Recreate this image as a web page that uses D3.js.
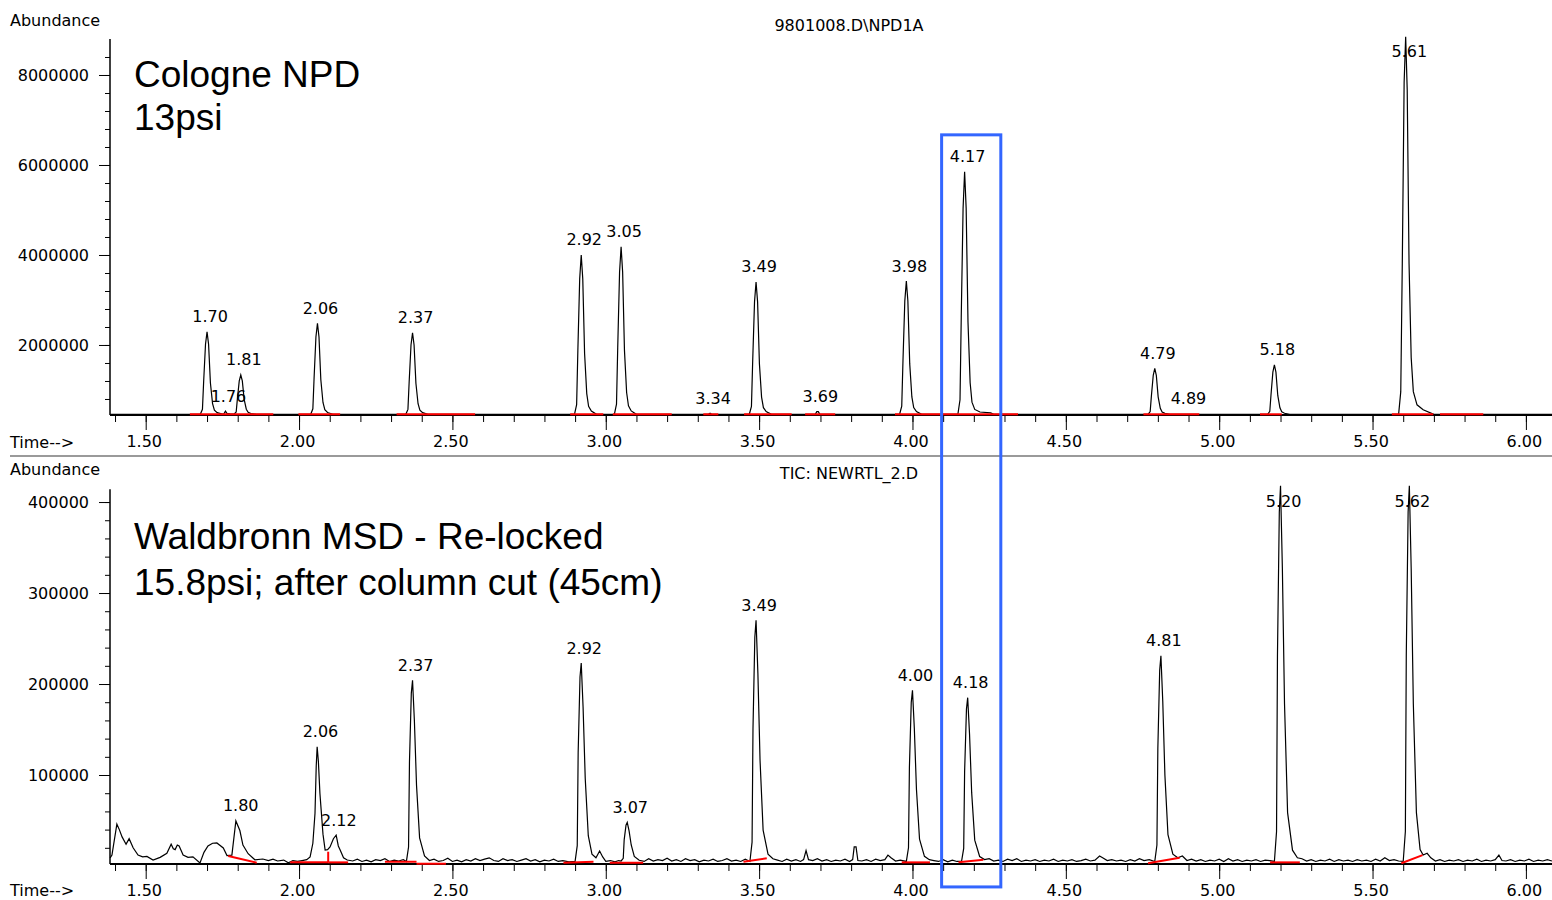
<!DOCTYPE html>
<html>
<head>
<script src="https://cdnjs.cloudflare.com/ajax/libs/d3/7.8.5/d3.min.js"></script>
<style>
  body { margin: 0; background: #fff; }
  .small { font-family: "DejaVu Sans", sans-serif; font-size: 16px; fill: #000; }
  .big { font-family: "Liberation Sans", Arial, sans-serif; font-size: 37px; fill: #000; }
  .trace { fill: none; stroke: #000; stroke-width: 1.2; stroke-linejoin: miter; }
  .intbase { stroke: #ff0000; stroke-width: 2; }
</style>
</head>
<body>
<div id="chart"></div>
<script>
// time axis (minutes)
const timeMajor = [1.5, 2.0, 2.5, 3.0, 3.5, 4.0, 4.5, 5.0, 5.5, 6.0];
const timeMinor = d3.range(14, 61).map(d => d / 10);

// ---- top: Cologne NPD ----
const npdMajor = [2000000, 4000000, 6000000, 8000000];
const npdMinor = d3.range(2, 23).map(d => d * 400000);
const npdTrace = [
  [1.384,460000],
  [1.678,460000],[1.685,570000],[1.689,1192000],[1.695,2016000],[1.700,2290000],[1.705,2016000],[1.711,1155000],[1.718,698000],[1.724,552000],[1.733,497000],[1.750,462000],
  [1.755,470000],[1.760,530000],[1.765,480000],[1.775,468000],
  [1.788,462000],[1.795,512000],[1.799,809000],[1.805,1202000],[1.810,1333000],[1.815,1202000],[1.821,792000],[1.828,573000],[1.834,504000],[1.843,477000],[1.860,460000],
  [2.038,460000],[2.045,581000],[2.049,1268000],[2.055,2177000],[2.060,2480000],[2.065,2177000],[2.071,1228000],[2.078,723000],[2.084,561000],[2.093,500000],[2.110,460000],
  [2.348,460000],[2.355,569000],[2.359,1184000],[2.365,1999000],[2.370,2270000],[2.375,1999000],[2.381,1148000],[2.388,695000],[2.394,551000],[2.403,496000],[2.420,460000],
  [2.898,460000],[2.905,672000],[2.909,1876000],[2.915,3469000],[2.920,4000000],[2.925,3469000],[2.931,1805000],[2.938,920000],[2.944,637000],[2.953,531000],[2.970,460000],
  [3.028,460000],[3.035,683000],[3.039,1948000],[3.045,3622000],[3.050,4180000],[3.055,3622000],[3.061,1874000],[3.068,944000],[3.074,646000],[3.083,534000],[3.100,460000],
  [3.335,460000],[3.340,485000],[3.345,460000],
  [3.468,460000],[3.475,636000],[3.479,1636000],[3.485,2959000],[3.490,3400000],[3.495,2959000],[3.501,1577000],[3.508,842000],[3.514,607000],[3.523,519000],[3.540,460000],
  [3.683,460000],[3.688,520000],[3.693,520000],[3.698,460000],
  [3.958,460000],[3.965,638000],[3.969,1644000],[3.975,2976000],[3.980,3420000],[3.985,2976000],[3.991,1585000],[3.998,845000],[4.004,608000],[4.013,519000],[4.030,460000],
  [4.148,460000],[4.155,783000],[4.159,2616000],[4.165,5042000],[4.170,5850000],[4.175,5042000],[4.181,2508000],[4.188,1161000],[4.194,730000],[4.203,568000],[4.220,510000],[4.255,490000],[4.265,460000],
  [4.768,460000],[4.775,521000],[4.779,868000],[4.785,1327000],[4.790,1480000],[4.795,1327000],[4.801,848000],[4.808,593000],[4.814,511000],[4.823,480000],[4.840,460000],
  [5.158,460000],[5.165,526000],[5.169,900000],[5.175,1395000],[5.180,1560000],[5.185,1395000],[5.191,878000],[5.198,603000],[5.204,515000],[5.213,482000],[5.230,460000],
  [5.585,460000],[5.592,963000],[5.597,3816000],[5.603,7843000],[5.608,8850000],[5.613,7675000],[5.619,3816000],[5.626,1719000],[5.633,963000],[5.645,670000],[5.665,561000],[5.700,460000],
  [6.085,460000]
];
// integration baselines [t1, v1, t2, v2]
const npdBaselines = [
  [1.644,460000,1.916,460000],[1.998,460000,2.134,460000],[2.318,460000,2.574,460000],
  [2.884,460000,2.992,460000],[3.023,460000,3.215,460000],[3.318,460000,3.367,460000],
  [3.451,460000,3.606,460000],[3.650,460000,3.748,460000],[3.943,460000,4.095,460000],
  [4.095,460000,4.344,460000],[4.753,460000,4.807,460000],[4.807,460000,4.935,460000],
  [5.133,460000,5.204,460000],[5.563,460000,5.698,460000],[5.720,460000,5.861,460000]
];
const npdPeakRT  = [1.70, 1.76, 1.81, 2.06, 2.37, 2.92, 3.05, 3.34, 3.49, 3.69, 3.98, 4.17, 4.79, 4.89, 5.18, 5.61];
const npdPeakTop = [2290000, 530000, 1333000, 2480000, 2270000, 4000000, 4180000, 480000, 3400000, 520000, 3420000, 5850000, 1480000, 480000, 1560000, 8850000];

// ---- bottom: Waldbronn MSD ----
const msdMajor = [100000, 200000, 300000, 400000];
const msdMinor = d3.range(1, 21).map(d => d * 20000);
const msdTrace = [
  [1.384,9000],[1.390,12000],[1.406,46000],[1.414,40000],[1.423,32000],[1.436,24000],[1.446,30000],[1.459,20000],[1.475,12000],[1.490,10000],[1.504,10500],[1.524,6600],[1.547,9500],[1.569,14000],[1.583,24000],[1.590,19000],[1.596,18000],[1.603,23000],[1.609,22000],[1.622,12000],[1.638,9500],[1.654,10000],[1.677,3300],[1.690,15000],[1.703,22000],[1.718,25000],[1.732,25300],[1.753,19800],[1.765,11500],[1.781,12000],[1.794,49500],[1.807,39000],[1.817,23000],[1.834,13500],[1.856,6800],[1.882,7700],
  [1.900,6000],[1.915,7500],[1.930,5500],[1.950,6500],[1.965,3500],[1.980,6000],[1.995,5000],[2.010,6000],[2.025,7000],[2.036,10000],
  [2.045,25000],[2.052,58000],[2.056,110000],[2.059,131000],[2.063,115000],[2.068,80000],[2.072,62000],[2.078,35000],[2.085,17600],[2.093,18000],[2.101,21000],[2.112,30000],[2.121,34000],[2.128,22000],[2.134,17600],[2.145,9000],[2.157,6600],
  [2.175,5500],[2.190,7500],[2.205,5000],[2.220,6500],[2.235,4500],[2.250,7000],[2.265,6000],[2.280,8000],[2.295,5000],[2.310,6500],[2.325,5500],[2.340,7000],
  [2.350,5000],[2.357,20900],[2.360,114500],[2.366,190000],[2.370,204000],[2.376,160000],[2.383,88600],[2.393,30900],[2.409,11000],[2.425,6000],
  [2.440,7500],[2.455,5000],[2.470,6000],[2.485,8500],[2.500,5000],[2.515,6500],[2.530,4500],[2.545,7000],[2.560,5500],[2.575,8000],[2.590,6000],[2.605,7500],[2.620,9000],[2.635,6000],[2.650,5000],[2.665,8000],[2.680,6000],[2.695,7000],[2.710,5000],[2.725,6500],[2.740,8000],[2.755,5500],[2.770,7000],[2.785,4500],[2.800,6500],[2.815,5500],[2.830,7500],[2.845,5000],[2.860,6000],[2.880,4500],
  [2.900,5000],[2.907,22400],[2.910,124900],[2.916,207700],[2.920,223000],[2.926,175000],[2.933,96600],[2.943,33300],[2.955,13000],[2.968,9000],[2.980,16500],[2.990,10000],[3.000,5000],[3.015,6000],[3.030,4500],[3.042,6000],
  [3.050,5500],[3.057,8400],[3.060,28700],[3.066,45000],[3.070,48000],[3.076,38500],[3.083,23100],[3.093,10600],[3.109,6300],[3.125,5000],
  [3.140,8000],[3.155,5500],[3.170,7000],[3.185,6000],[3.200,8500],[3.215,5500],[3.230,7000],[3.245,5000],[3.260,8000],[3.275,6000],[3.290,7000],[3.305,4500],[3.320,6500],[3.335,5500],[3.350,7500],[3.365,5000],[3.380,6000],[3.395,8000],[3.410,5500],[3.425,6500],[3.440,5000],[3.455,7500],
  [3.470,5000],[3.477,26200],[3.480,150800],[3.486,251500],[3.490,270000],[3.496,211700],[3.503,116300],[3.513,39500],[3.529,13000],[3.545,8000],
  [3.560,6500],[3.575,5000],[3.590,7500],[3.605,5500],[3.620,7000],[3.635,5000],[3.645,7000],[3.653,17000],[3.661,7000],[3.675,6000],[3.690,8000],[3.705,5500],[3.720,7000],[3.735,5000],[3.750,6500],[3.765,5500],[3.780,7500],[3.795,5000],[3.805,7000],[3.810,21000],[3.816,21000],[3.822,6000],[3.835,5500],[3.850,7000],[3.865,5000],[3.880,7500],[3.895,6000],[3.910,7000],[3.920,12000],[3.930,9000],[3.945,5500],[3.960,6500],
  [3.980,5000],[3.987,20000],[3.990,108400],[3.996,179800],[4.000,193000],[4.006,151600],[4.013,84000],[4.023,29400],[4.039,10600],[4.055,7000],
  [4.070,6000],[4.085,5000],[4.100,7000],[4.115,4500],[4.130,6500],[4.145,5000],
  [4.160,5000],[4.167,19400],[4.170,104000],[4.176,172400],[4.180,185000],[4.186,145400],[4.193,80600],[4.203,28400],[4.219,10400],[4.235,7000],
  [4.250,8000],[4.265,5500],[4.280,6500],[4.295,5000],[4.310,7500],[4.325,6000],[4.340,8000],[4.355,5000],[4.370,6500],[4.385,5500],[4.400,7000],[4.415,5000],[4.430,6500],[4.445,5500],[4.460,7500],[4.475,5000],[4.490,6500],[4.505,5500],[4.520,7000],[4.535,5000],[4.550,6000],[4.565,7500],[4.580,5500],[4.595,6500],[4.610,11000],[4.620,9000],[4.635,6000],[4.650,7000],[4.665,5500],[4.680,6500],[4.695,5000],[4.710,7000],[4.725,5500],[4.740,8000],[4.755,6000],[4.772,7000],
  [4.790,5000],[4.797,23100],[4.800,129300],[4.806,215200],[4.810,231000],[4.816,181300],[4.823,99900],[4.833,34400],[4.849,13000],[4.865,9000],[4.880,11000],[4.895,6000],
  [4.910,7500],[4.925,5500],[4.940,7000],[4.955,5000],[4.970,6500],[4.985,5500],[5.000,7500],[5.015,5000],[5.030,8000],[5.045,5500],[5.060,7000],[5.075,5000],[5.090,6500],[5.105,5500],[5.120,7000],[5.135,5000],[5.150,6500],[5.165,6000],
  [5.180,5000],[5.187,38000],[5.190,232000],[5.196,389000],[5.200,418000],[5.206,327000],[5.213,178000],[5.223,58700],[5.239,17400],[5.255,9000],
  [5.270,8000],[5.285,5500],[5.300,7000],[5.315,5000],[5.330,6500],[5.345,5500],[5.360,7500],[5.375,5000],[5.390,7000],[5.405,5500],[5.420,6500],[5.435,5000],[5.450,7000],[5.465,5500],[5.480,6500],[5.495,5000],[5.510,7500],[5.525,5500],[5.540,9000],[5.555,6000],[5.570,7000],[5.585,5500],
  [5.600,5000],[5.607,38000],[5.610,232000],[5.616,389000],[5.620,418000],[5.626,327000],[5.633,178000],[5.643,58700],[5.655,18000],[5.665,12000],[5.678,14000],[5.690,9000],[5.705,5500],
  [5.720,7000],[5.735,5000],[5.750,6500],[5.765,5500],[5.780,7000],[5.795,5000],[5.810,6500],[5.825,5500],[5.840,7500],[5.855,5000],[5.870,6500],[5.885,5500],[5.900,7000],[5.912,12000],[5.922,6000],[5.935,5500],[5.950,7000],[5.965,5000],[5.980,6500],[5.995,5500],[6.010,7500],[6.025,5000],[6.040,6500],[6.055,5500],[6.070,7000],[6.085,5500]
];
const msdBaselines = [
  [1.769,11000,1.862,3600],[1.971,4000,2.095,4000],[2.095,15700,2.095,4000],[2.095,4000,2.160,4000],
  [2.280,4700,2.383,4700],[2.383,2500,2.479,2500],[2.862,3600,2.960,4700],[3.013,3600,3.122,3600],
  [3.449,4700,3.525,8400],[3.965,4000,4.057,4000],[4.150,4000,4.231,7000],[4.768,3000,4.871,9000],
  [5.166,4000,5.263,4000],[5.594,3000,5.663,12000]
];
const msdPeakRT  = [1.80, 2.06, 2.12, 2.37, 2.92, 3.07, 3.49, 4.00, 4.18, 4.81, 5.20, 5.62];
const msdPeakTop = [49500, 131000, 34000, 204000, 223000, 48000, 270000, 193000, 185000, 231000, 418000, 418000];

// highlighted retention window
const highlightWindow = [4.095, 4.288];

const width = 1552, height = 900;
const svg = d3.select("#chart").append("svg").attr("width", width).attr("height", height);

const x = d3.scaleLinear().domain([1.3836, 6.0851]).range([110, 1552]);

const panels = [
  {
    title: "9801008.D\\NPD1A", titleY: 31, abundY: 26, timeY: 448,
    y: d3.scaleLinear().domain([444000, 8800000]).range([415, 39]),
    major: npdMajor, minor: npdMinor, trace: npdTrace, bases: npdBaselines,
    rt: npdPeakRT, top: npdPeakTop,
    notes: [["Cologne NPD", 87], ["13psi", 130]]
  },
  {
    title: "TIC: NEWRTL_2.D", titleY: 479, abundY: 475, timeY: 896,
    y: d3.scaleLinear().domain([2200, 414000]).range([864, 489.3]),
    major: msdMajor, minor: msdMinor, trace: msdTrace, bases: msdBaselines,
    rt: msdPeakRT, top: msdPeakTop,
    notes: [["Waldbronn MSD - Re-locked", 549], ["15.8psi; after column cut (45cm)", 595]]
  }
];

panels.forEach(p => {
  const g = svg.append("g");
  const y = p.y;
  const y0 = y.range()[0], y1 = y.range()[1];

  g.append("text").attr("class", "small").attr("x", 10).attr("y", p.abundY).text("Abundance");
  g.append("text").attr("class", "small").attr("x", 849).attr("y", p.titleY)
    .attr("text-anchor", "middle").text(p.title);
  g.append("text").attr("class", "small").attr("x", 10).attr("y", p.timeY).text("Time-->");

  // y axis
  const ya = g.append("g").attr("transform", "translate(110,0)")
    .call(d3.axisLeft(y).tickValues(p.major).tickSize(11).tickPadding(10).tickFormat(d3.format("d")));
  ya.select(".domain").remove();
  ya.selectAll("text").attr("font-family", "DejaVu Sans").attr("font-size", 16);
  const ym = g.append("g").attr("transform", "translate(110,0)")
    .call(d3.axisLeft(y).tickValues(p.minor.filter(v => y(v) > y1 + 1)).tickSize(5).tickFormat(""));
  ym.select(".domain").remove();
  g.append("line").attr("x1", 110).attr("x2", 110).attr("y1", y1).attr("y2", y0)
    .attr("stroke", "#000").attr("stroke-width", 1.5);

  // x axis
  const xa = g.append("g").attr("transform", `translate(0,${y0})`)
    .call(d3.axisBottom(x).tickValues(timeMajor).tickSize(15).tickPadding(6).tickFormat(d3.format(".2f")));
  xa.select(".domain").remove();
  xa.selectAll("text").attr("font-family", "DejaVu Sans").attr("font-size", 16).attr("dx", -2);
  const xm = g.append("g").attr("transform", `translate(0,${y0})`)
    .call(d3.axisBottom(x).tickValues(timeMinor).tickSize(7).tickFormat(""));
  xm.select(".domain").remove();
  g.append("line").attr("x1", 110).attr("x2", width).attr("y1", y0).attr("y2", y0)
    .attr("stroke", "#000").attr("stroke-width", 2);

  // trace
  const line = d3.line().x(d => x(d[0])).y(d => y(d[1]));
  g.append("path").datum(p.trace).attr("class", "trace").attr("d", line);

  // integration baselines
  g.selectAll("line.intbase").data(p.bases).enter().append("line")
    .attr("class", "intbase")
    .attr("x1", d => x(d[0])).attr("y1", d => y(d[1]))
    .attr("x2", d => x(d[2])).attr("y2", d => y(d[3]));

  // peak labels
  g.selectAll("text.pk").data(p.rt).enter().append("text")
    .attr("class", "small pk")
    .attr("text-anchor", "middle")
    .attr("x", d => x(d) + 3)
    .attr("y", (d, i) => Math.max(y(p.top[i]) - 15, y1 + 12) + 5.5)
    .text(d => d.toFixed(2));

  // annotations
  p.notes.forEach(n => {
    g.append("text").attr("class", "big").attr("x", 134).attr("y", n[1]).text(n[0]);
  });
});

// panel separator
svg.append("line").attr("x1", 10).attr("x2", width).attr("y1", 456).attr("y2", 456)
  .attr("stroke", "#9a9a9a").attr("stroke-width", 2);

// highlight box spanning both panels
const yTop = panels[0].y, yBot = panels[1].y;
svg.append("rect")
  .attr("x", x(highlightWindow[0]))
  .attr("width", x(highlightWindow[1]) - x(highlightWindow[0]))
  .attr("y", yTop(6670000))
  .attr("height", yBot(-23000) - yTop(6670000))
  .attr("fill", "none").attr("stroke", "#3366ff").attr("stroke-width", 3);
</script>
</body>
</html>
